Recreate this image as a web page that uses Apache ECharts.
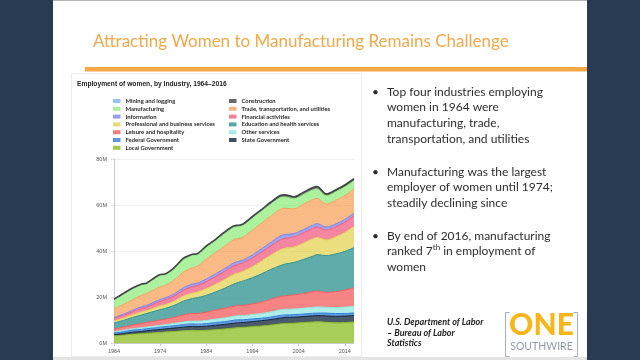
<!DOCTYPE html>
<html><head><meta charset="utf-8">
<script src="https://cdn.jsdelivr.net/npm/echarts@6/dist/echarts.min.js"></script>
<style>html,body{margin:0;padding:0;background:#283b52;overflow:hidden}#c{width:640px;height:360px}</style>
</head><body><div id="c"></div>
<script>
// ---- data (millions of women employed) ----
const years = [1964,1966,1968,1970,1971,1973,1974,1975,1977,1979,1980,1981,1982,1984,1986,1988,1990,1991,1992,1994,1996,1998,2000,2001,2003,2005,2007,2008,2010,2012,2014,2016];
const localGov  = [3.1,3.4,3.8,4.0,4.2,4.5,4.6,4.8,5.0,5.3,5.4,5.5,5.4,5.5,5.8,6.1,6.5,6.7,6.8,7.1,7.4,7.8,8.3,8.5,8.6,8.9,9.1,9.2,9.0,8.8,8.9,9.1];
const stateGov  = [0.6,0.7,0.9,1.0,1.1,1.2,1.3,1.3,1.5,1.6,1.7,1.7,1.7,1.8,1.9,2.0,2.1,2.1,2.1,2.2,2.3,2.4,2.5,2.6,2.6,2.6,2.7,2.7,2.8,2.8,2.8,2.9];
const federalGov= [0.7,0.8,0.9,0.9,0.9,0.9,1.0,1.0,1.0,1.1,1.1,1.1,1.1,1.1,1.2,1.2,1.3,1.3,1.2,1.2,1.1,1.1,1.2,1.1,1.1,1.1,1.1,1.1,1.2,1.2,1.1,1.1];
const otherServ = [0.5,0.6,0.6,0.7,0.7,0.8,0.8,0.8,1.0,1.1,1.2,1.2,1.3,1.4,1.5,1.6,1.7,1.8,1.8,1.9,2.0,2.2,2.4,2.4,2.5,2.5,2.6,2.7,2.5,2.6,2.8,2.9];
const leisure   = [1.2,1.4,1.6,1.9,2.0,2.2,2.3,2.4,2.6,3.1,3.2,3.3,3.3,3.6,3.9,4.2,4.4,4.4,4.5,4.6,5.0,5.5,5.8,5.9,6.1,6.4,6.8,6.9,6.5,6.9,7.4,8.1];
const eduHealth = [2.6,2.9,3.3,3.7,3.9,4.3,4.5,4.7,5.2,6.0,6.2,6.5,6.9,7.3,7.9,8.7,9.7,10.1,10.6,11.4,12.3,13.0,13.4,13.8,14.1,14.8,15.4,15.8,16.0,16.4,16.8,17.4];
const profBus   = [0.9,1.0,1.1,1.3,1.2,1.5,1.6,1.6,1.8,2.2,2.3,2.4,2.4,2.9,3.3,3.8,4.2,4.1,4.2,4.8,5.6,6.2,6.9,6.9,6.7,7.1,7.5,7.5,6.8,7.4,8.2,9.2];
const financial = [1.1,1.2,1.4,1.6,1.6,1.9,2.0,2.1,2.3,2.6,2.7,2.8,2.8,3.1,3.4,3.6,3.7,3.7,3.7,3.8,3.9,4.1,4.3,4.3,4.4,4.5,4.6,4.6,4.3,4.4,4.5,4.7];
const information=[0.4,0.5,0.6,0.7,0.7,0.8,0.8,0.8,0.9,1.0,1.1,1.1,1.1,1.1,1.2,1.2,1.3,1.3,1.2,1.3,1.4,1.5,1.7,1.7,1.5,1.4,1.4,1.4,1.3,1.2,1.2,1.1];
const tradeTU   = [3.8,4.2,4.6,5.0,5.1,5.4,5.5,5.5,6.0,6.8,7.0,7.2,7.3,8.6,9.2,9.8,10.1,10.0,10.0,10.8,11.1,11.4,11.6,11.4,10.7,11.0,11.1,11.0,10.0,10.3,10.4,10.4];
const manufacturing=[4.0,4.6,4.8,4.6,4.3,4.8,5.0,4.6,5.0,5.5,5.4,5.3,5.0,5.2,5.2,5.4,5.3,5.1,5.1,5.3,5.3,5.3,5.1,4.9,4.4,4.2,4.2,4.1,3.6,3.7,3.7,3.6];
const construction=[0.2,0.2,0.3,0.3,0.3,0.4,0.4,0.4,0.4,0.5,0.5,0.5,0.5,0.6,0.6,0.7,0.7,0.6,0.6,0.6,0.7,0.8,0.9,0.9,0.9,1.0,1.0,1.0,0.8,0.8,0.9,0.9];
const mining    = [0.05,0.05,0.05,0.05,0.05,0.05,0.06,0.07,0.08,0.1,0.12,0.13,0.13,0.12,0.1,0.09,0.09,0.09,0.08,0.08,0.08,0.08,0.08,0.08,0.08,0.09,0.1,0.11,0.1,0.12,0.14,0.12];

const xLabelYears = [1964,1974,1984,1994,2004,2014];
const legendLeft  = ['Mining and logging','Manufacturing','Information','Professional and business services','Leisure and hospitality','Federal Government','Local Government'];
const legendRight = ['Construction','Trade, transportation, and utilities','Financial activities','Education and health services','Other services','State Government'];

// stacking order bottom -> top
const stackDefs = [
  ['Local Government', localGov, '#8bbc21'],
  ['State Government', stateGov, '#0d233a'],
  ['Federal Government', federalGov, '#2f7ed8'],
  ['Other services', otherServ, '#91e8e1'],
  ['Leisure and hospitality', leisure, '#f45b5b'],
  ['Education and health services', eduHealth, '#2b908f'],
  ['Professional and business services', profBus, '#e4d354'],
  ['Financial activities', financial, '#f15c80'],
  ['Information', information, '#8085e9'],
  ['Trade, transportation, and utilities', tradeTU, '#f7a35c'],
  ['Manufacturing', manufacturing, '#90ed7d'],
  ['Construction', construction, '#434348'],
  ['Mining and logging', mining, '#7cb5ec']
];

// value stored first so that it is the stacked dimension; year mapped to x via encode
const series = stackDefs.map(([name, arr, color]) => ({
  name, type: 'line', stack: 'total', smooth: 0.3, symbol: 'none',
  dimensions: [{ name: 'v', type: 'float' }, { name: 'year', type: 'float' }],
  encode: { x: 1, y: 0 },
  data: years.map((y, i) => [arr[i], y]),
  itemStyle: { color },
  lineStyle: { color, width: name === 'Construction' ? 1.6 : (name === 'Mining and logging' ? 0 : 1) },
  areaStyle: { color, opacity: 0.75 },
  emphasis: { disabled: true }
}));

const F = 'Lato, "Open Sans", sans-serif';
const bulletText = (x, y, t) => ({ type: 'text', x, y, z: 5, style: { text: t, fill: '#2e2e2e', font: '12px ' + F, textVerticalAlign: 'middle' } });
const bullets = [
  [91.7, ['Top four industries employing', 'women in 1964 were', 'manufacturing, trade,', 'transportation, and utilities']],
  [171.7, ['Manufacturing was the largest', 'employer of women until 1974;', 'steadily declining since']],
  [235.7, ['By end of 2016, manufacturing', null, 'women']]
];
const gfx = [
  { type: 'rect', z: -10, shape: { x: 53, y: 0, width: 534, height: 358 }, style: { fill: '#ffffff' } },
  { type: 'rect', z: -9, shape: { x: 53, y: 0, width: 534, height: 1 }, style: { fill: '#b5b5b5' } },
  { type: 'rect', z: -9, shape: { x: 53, y: 357, width: 534, height: 3 }, style: { fill: '#e4e4e4' } },
  { type: 'text', x: 93, y: 42, z: 5, style: { text: 'Attracting Women to Manufacturing Remains Challenge', fill: '#f4a847', font: '17px ' + F, textVerticalAlign: 'middle' } },
  { type: 'rect', z: -8, shape: { x: 85, y: 67, width: 502, height: 4.5 }, style: { fill: '#f5a845' } },
  { type: 'rect', z: -8, shape: { x: 71.5, y: 73.5, width: 290, height: 283 }, style: { fill: '#fff', stroke: '#ececec', lineWidth: 1 } },
  { type: 'text', x: 77, y: 84, z: 5, style: { text: 'Employment of women, by Industry, 1964\u20132016', fill: '#222', font: 'bold 6.7px "Liberation Sans", Arial, sans-serif', textVerticalAlign: 'middle' } },
  // source
  { type: 'text', x: 387, y: 321.7, z: 5, style: { text: 'U.S. Department of Labor', fill: '#222', font: 'italic bold 9px ' + F, textVerticalAlign: 'middle' } },
  { type: 'text', x: 387, y: 332.7, z: 5, style: { text: '\u2013 Bureau of Labor', fill: '#222', font: 'italic bold 9px ' + F, textVerticalAlign: 'middle' } },
  { type: 'text', x: 387, y: 343.5, z: 5, style: { text: 'Statistics', fill: '#222', font: 'italic bold 9px ' + F, textVerticalAlign: 'middle' } },
  // logo
  { type: 'polyline', z: 5, shape: { points: [[509.5, 312.5], [505.5, 312.5], [505.5, 356.5], [509.5, 356.5]] }, style: { stroke: '#a3aeb8', lineWidth: 1, fill: null } },
  { type: 'polyline', z: 5, shape: { points: [[573.5, 312.5], [577.5, 312.5], [577.5, 356.5], [573.5, 356.5]] }, style: { stroke: '#a3aeb8', lineWidth: 1, fill: null } },
  { type: 'text', x: 541.5, y: 325, z: 5, style: { text: 'ONE', fill: '#f6b61c', font: '900 30px ' + F, textAlign: 'center', textVerticalAlign: 'middle' } },
  { type: 'text', x: 541.5, y: 347, z: 5, style: { text: 'SOUTHWIRE', fill: '#8d9dac', font: '10.5px ' + F, textAlign: 'center', textVerticalAlign: 'middle' } }
];
bullets.forEach(([y0, lines]) => {
  gfx.push({ type: 'text', x: 372, y: y0, z: 5, style: { text: '\u2022', fill: '#2e2e2e', font: '12px ' + F, textVerticalAlign: 'middle' } });
  lines.forEach((t, i) => {
    const y = y0 + i * 15.8;
    if (t === null) {
      gfx.push({ type: 'text', x: 387, y, z: 5, style: { text: '{a|ranked 7}{s|th}{a| in employment of}', fill: '#2e2e2e', textVerticalAlign: 'middle',
        rich: { a: { font: '12px ' + F, fill: '#2e2e2e', lineHeight: 16, verticalAlign: 'middle' }, s: { font: '8px ' + F, fill: '#2e2e2e', lineHeight: 16, verticalAlign: 'top' } } } });
    } else gfx.push(bulletText(387, y, t));
  });
});

const legendCommon = {
  orient: 'vertical', top: 98, padding: 0, itemWidth: 7.5, itemHeight: 4, itemGap: 1.8, icon: 'rect',
  itemStyle: { opacity: 0.8 }, selectedMode: false,
  textStyle: { fontFamily: F, fontWeight: 'bold', fontSize: 5.9, color: '#2a2a2a', lineHeight: 6 }
};

const chart = echarts.init(document.getElementById('c'), null, { renderer: 'canvas' });
chart.setOption({
  backgroundColor: '#283b52',
  animation: false,
  graphic: { elements: gfx },
  legend: [
    Object.assign({}, legendCommon, { left: 113, data: legendLeft }),
    Object.assign({}, legendCommon, { left: 229, data: legendRight })
  ],
  grid: { left: 114, right: 286, top: 159, bottom: 17, containLabel: false },
  xAxis: {
    type: 'value', min: 1964, max: 2016,
    axisLine: { show: true, lineStyle: { color: '#c8c8c8', width: 1 } },
    axisTick: { show: true, length: 3, lineStyle: { color: '#c8c8c8' }, customValues: xLabelYears },
    axisLabel: { customValues: xLabelYears, fontSize: 5.5, color: '#555', margin: 5, fontFamily: 'Liberation Sans, Arial, sans-serif', formatter: v => String(v) },
    splitLine: { show: false }
  },
  yAxis: {
    type: 'value', min: 0, max: 80, interval: 20,
    axisLine: { show: true, lineStyle: { color: '#c8c8c8', width: 1 } },
    axisTick: { show: true, length: 3, lineStyle: { color: '#dddddd' } },
    axisLabel: { fontSize: 5.5, color: '#555', margin: 7, fontFamily: 'Liberation Sans, Arial, sans-serif', formatter: v => v + 'M' },
    splitLine: { show: true, lineStyle: { color: '#efefef', width: 1 } }
  },
  series
});
</script>
</body></html>
